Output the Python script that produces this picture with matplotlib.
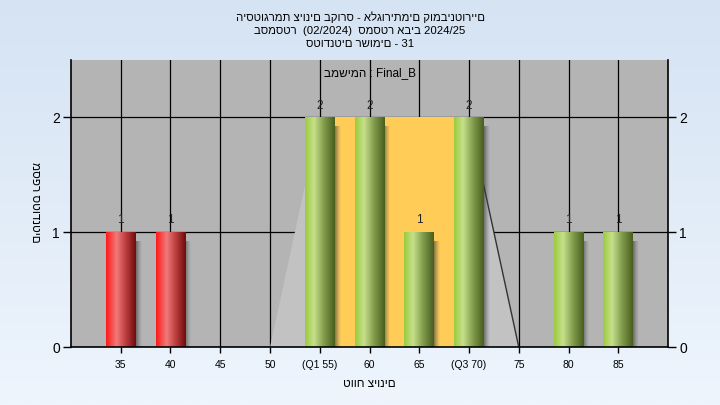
import numpy as np
import matplotlib
matplotlib.use('Agg')
import matplotlib.pyplot as plt
from matplotlib.patches import Polygon, Rectangle
from matplotlib.colors import LinearSegmentedColormap

plt.rcParams['font.family'] = ['Liberation Sans', 'DejaVu Sans']

# data
grades = [35, 40, 45, 50, 55, 60, 65, 70, 75, 80, 85]
counts = [1, 1, 0, 0, 2, 2, 1, 2, 0, 1, 1]
tick_labels = ['35', '40', '45', '50', '(Q1 55)', '60', '65', '(Q3 70)', '75', '80', '85']
fail_limit = 55
box_low, q1, q3, box_high = 50, 55, 70, 75
box_height = 2

title = ('היסטוגרמת ציונים בקורס - אלגוריתמים קומבינטוריים\n'
         'בסמסטר  (02/2024)  סמסטר אביב 2024/25\n'
         'סטודנטים רשומים - 31')
subtitle = 'במשימה : Final_B'
xlabel = 'טווח ציונים'
ylabel = 'מספר סטודנטים'

fig = plt.figure(figsize=(7.2, 4.05), dpi=100)

# figure background gradient
bg = fig.add_axes([0, 0, 1, 1], zorder=-10)
bg_cmap = LinearSegmentedColormap.from_list('bg', ['#eef5fd', '#d5e3f3'])
bg.imshow(np.linspace(0, 1, 256).reshape(-1, 1), aspect='auto', cmap=bg_cmap,
          origin='lower', extent=[0, 1, 0, 1])
bg.axis('off')

ax = fig.add_axes([0.0986, 0.1432, 0.8292, 0.7087])
ax.set_facecolor('#b4b4b4')

# box shape behind the bars
ax.add_patch(Polygon([(box_low, 0), (q1, box_height), (q3, box_height), (box_high, 0)],
                     closed=True, facecolor='#c2c2c2', edgecolor='none', zorder=0.8))
ax.add_patch(Rectangle((q1, 0), q3 - q1, box_height, facecolor='#ffcd57',
                       edgecolor='none', zorder=0.9))
ax.plot([q3, box_high], [box_height, 0], color='#333333', lw=1, zorder=1)

ax.set_axisbelow(True)
ax.grid(True, color='black', lw=0.9)

red_cmap = LinearSegmentedColormap.from_list(
    'red', [(0, '#ff1818'), (0.35, '#f07a7a'), (0.65, '#c04040'), (1, '#6e0c0c')])
green_cmap = LinearSegmentedColormap.from_list(
    'green', [(0, '#9acb3c'), (0.3, '#c6e08c'), (0.65, '#7f9a4a'), (1, '#485e1e')])
shadow_cmap = LinearSegmentedColormap.from_list(
    'shadow', [(0, (0.2, 0.2, 0.2, 0.6)), (1, (0.4, 0.4, 0.4, 0.0))])

bar_w = 3
bars = ax.bar(grades, counts, width=bar_w, color='none', zorder=2)
grad = np.linspace(0, 1, 128).reshape(1, -1)
for g, c, b in zip(grades, counts, bars):
    if c == 0:
        continue
    x0, w, h = b.get_x(), b.get_width(), b.get_height()
    cmap = red_cmap if g < fail_limit else green_cmap
    # soft shadow at the right side
    ax.imshow(grad, aspect='auto', cmap=shadow_cmap, extent=[x0 + w, x0 + w + 0.6, 0, h - 0.08],
              zorder=1.9, interpolation='bilinear')
    im = ax.imshow(grad, aspect='auto', cmap=cmap, extent=[x0, x0 + w, 0, h],
                   zorder=2.1, interpolation='bilinear')
    im.set_clip_path(b)
    ax.text(g, h + 0.05, str(c), ha='center', va='bottom', fontsize=8.5, color='#222222', zorder=3)

ax.set_xlim(30, 90)
ax.set_ylim(0, 2.5)

ax.set_xticks(grades)
ax.set_xticklabels(tick_labels, fontsize=7.5)
ax.set_yticks([0, 1, 2])
ax.tick_params(axis='y', labelsize=10, length=6, width=1, left=True, right=True,
               labelleft=True, labelright=True, pad=2)
ax.tick_params(axis='x', length=4, width=1, pad=5)
ax.spines['top'].set_visible(False)
for side in ['left', 'right', 'bottom']:
    ax.spines[side].set_linewidth(1.2)

ax.text(0.5, 0.955, subtitle, transform=ax.transAxes, ha='center', va='center', fontsize=8.5)
ax.set_xlabel(xlabel, fontsize=8.5, labelpad=6)
fig.text(35 / 720, 0.5, ylabel, rotation=-90, ha='center', va='center', fontsize=8.5)

fig.text(0.5, 0.972, title, ha='center', va='top', fontsize=8.2, linespacing=1.4)

fig.savefig('out.png', dpi=100)
